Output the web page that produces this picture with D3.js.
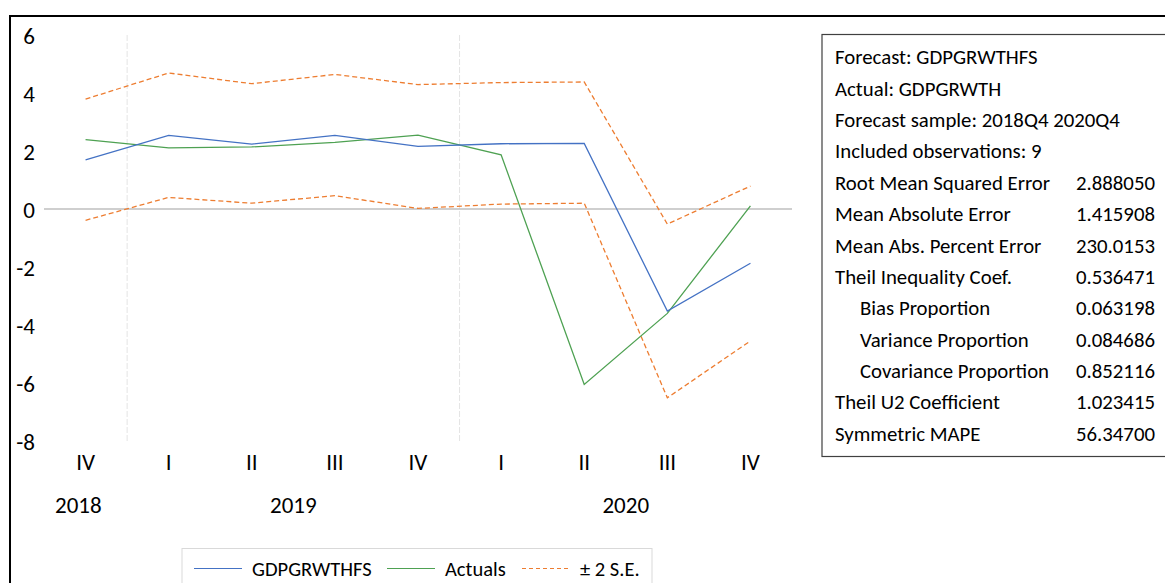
<!DOCTYPE html>
<html>
<head>
<meta charset="utf-8">
<script src="https://cdn.jsdelivr.net/npm/d3@7"></script>
<style>
  html, body { margin: 0; padding: 0; background: #fff; }
  svg { display: block; }
  text { font-family: Carlito, Calibri, Lato, "Open Sans", sans-serif; fill: #000; }
</style>
</head>
<body>
<svg id="chart" width="1165" height="583"></svg>
<script>
// ---- data ----
const periods = ["2018Q4","2019Q1","2019Q2","2019Q3","2019Q4","2020Q1","2020Q2","2020Q3","2020Q4"];
const quarterLabels = ["IV","I","II","III","IV","I","II","III","IV"];
const yearLabels = ["2018","2019","2020"];
const forecast = [1.69, 2.54, 2.24, 2.54, 2.16, 2.25, 2.26, -3.52, -1.87];
const actuals  = [2.39, 2.11, 2.14, 2.30, 2.55, 1.87, -6.05, -3.60, 0.11];
const upperSE  = [3.79, 4.69, 4.32, 4.64, 4.29, 4.36, 4.38, -0.52, 0.79];
const lowerSE  = [-0.39, 0.40, 0.20, 0.46, 0.02, 0.17, 0.20, -6.51, -4.55];
const yTicks = [6, 4, 2, 0, -2, -4, -6, -8];
const legendNames = ["GDPGRWTHFS", "Actuals", "\u00B1 2 S.E."];
const headerLines = ["Forecast: GDPGRWTHFS", "Actual: GDPGRWTH", "Forecast sample: 2018Q4 2020Q4", "Included observations: 9"];
const statLabels = ["Root Mean Squared Error","Mean Absolute Error","Mean Abs. Percent Error","Theil Inequality Coef.","Bias Proportion","Variance Proportion","Covariance Proportion","Theil U2 Coefficient","Symmetric MAPE"];
const statValues = ["2.888050","1.415908","230.0153","0.536471","0.063198","0.084686","0.852116","1.023415","56.34700"];
const statIndent = [false,false,false,false,true,true,true,false,false];

// ---- layout ----
const svg = d3.select("#chart");
const colors = { fc: "#4472C4", act: "#4EA152", se: "#ED7D31" };
const FONT = "Carlito, Calibri, Lato, sans-serif";

const x = d3.scaleBand().domain(periods).range([44, 792]).padding(0);
const cx = p => x(p) + x.bandwidth() / 2;
const y = d3.scaleLinear().domain([-8, 6]).range([441, 35]);

// outer frame
svg.append("rect").attr("x", 10).attr("y", 16).attr("width", 1200).attr("height", 620)
  .attr("fill", "none").attr("stroke", "#000").attr("stroke-width", 2);

// year separators
const yearOfPeriod = p => p.slice(0, 4);
periods.forEach((p, i) => {
  if (i > 0 && yearOfPeriod(p) !== yearOfPeriod(periods[i - 1])) {
    svg.append("line").attr("x1", x(p)).attr("x2", x(p)).attr("y1", y(6)).attr("y2", y(-8))
      .attr("stroke", "#e4e4e4").attr("stroke-width", 1).attr("stroke-dasharray", "6,2");
  }
});

// zero line
svg.append("line").attr("x1", x.range()[0]).attr("x2", x.range()[1]).attr("y1", y(0)).attr("y2", y(0))
  .attr("stroke", "#bfbfbf").attr("stroke-width", 1.5);

// y axis labels
const yAxis = d3.axisLeft(y).tickValues(yTicks).tickSize(0).tickPadding(0).tickFormat(d => String(d));
const gy = svg.append("g").attr("transform", "translate(35,0)").call(yAxis);
gy.select(".domain").remove();
gy.selectAll("text").attr("font-size", 23).attr("fill", "#000")
  .style("font-family", FONT).attr("dy", "0.36em");

// x axis labels (quarters)
const xAxis = d3.axisBottom(x).tickSize(0).tickPadding(0).tickFormat((d, i) => quarterLabels[i]);
const gx = svg.append("g").attr("transform", "translate(0,470)").call(xAxis);
gx.select(".domain").remove();
gx.selectAll("text").attr("font-size", 23).attr("fill", "#000").attr("dy", 0)
  .style("font-family", FONT);

// year labels
yearLabels.forEach((yr, k) => {
  const ps = periods.filter(p => yearOfPeriod(p) === yr);
  let c = d3.mean(ps, cx);
  const t = svg.append("text").attr("y", 513).attr("font-size", 23).attr("text-anchor", "middle").text(yr);
  const w = t.node().getComputedTextLength();
  // a partial first year is drawn left-aligned near the axis start
  if (k === 0 && ps.length < 4) c = x.range()[0] + 11 + w / 2;
  t.attr("x", c);
});

// lines
const line = vals => d3.line().x((d, i) => cx(periods[i])).y(d => y(d))(vals);
svg.append("path").attr("d", line(upperSE)).attr("fill", "none").attr("stroke", colors.se)
  .attr("stroke-width", 1.3).attr("stroke-dasharray", "5,3");
svg.append("path").attr("d", line(lowerSE)).attr("fill", "none").attr("stroke", colors.se)
  .attr("stroke-width", 1.3).attr("stroke-dasharray", "5,3");
svg.append("path").attr("d", line(actuals)).attr("fill", "none").attr("stroke", colors.act).attr("stroke-width", 1.3);
svg.append("path").attr("d", line(forecast)).attr("fill", "none").attr("stroke", colors.fc).attr("stroke-width", 1.3);

// stats box
svg.append("rect").attr("x", 822).attr("y", 34.5).attr("width", 400).attr("height", 422)
  .attr("fill", "#fff").attr("stroke", "#404040").attr("stroke-width", 1.2);
const lh = 31.37, base0 = 64.3, statFs = 20.8;
headerLines.forEach((t, i) => {
  svg.append("text").attr("x", 835).attr("y", base0 + i * lh).attr("font-size", statFs).text(t);
});
statLabels.forEach((t, i) => {
  const yy = base0 + (i + headerLines.length) * lh;
  svg.append("text").attr("x", statIndent[i] ? 860 : 835).attr("y", yy).attr("font-size", statFs).text(t);
  svg.append("text").attr("x", 1155).attr("y", yy).attr("font-size", statFs).attr("text-anchor", "end").text(statValues[i]);
});

// legend
svg.append("rect").attr("x", 182).attr("y", 548.5).attr("width", 470).attr("height", 60)
  .attr("fill", "#fff").attr("stroke", "#d9d9d9").attr("stroke-width", 1);
const legItems = [
  { name: legendNames[0], color: colors.fc, dash: null, x0: 194, tx: 252 },
  { name: legendNames[1], color: colors.act, dash: null, x0: 387, tx: 445 },
  { name: legendNames[2], color: colors.se, dash: "4,3", x0: 522, tx: 580 }
];
legItems.forEach(it => {
  svg.append("line").attr("x1", it.x0).attr("x2", it.x0 + 48).attr("y1", 568.5).attr("y2", 568.5)
    .attr("stroke", it.color).attr("stroke-width", 1.2).attr("stroke-dasharray", it.dash);
  svg.append("text").attr("x", it.tx).attr("y", 575.5).attr("font-size", 20.5).text(it.name);
});
</script>
</body>
</html>
